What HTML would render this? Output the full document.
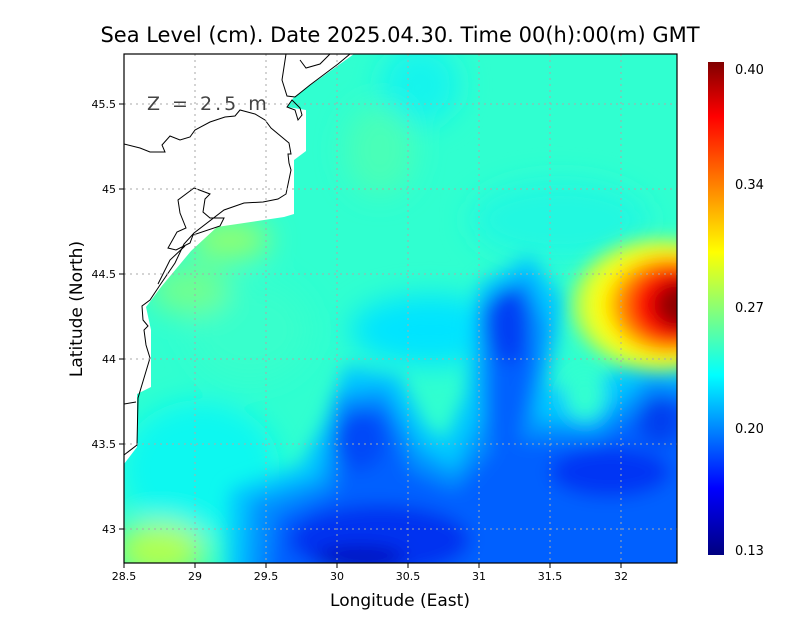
<!DOCTYPE html>
<html><head><meta charset="utf-8"><style>
body{margin:0;background:#fff;width:800px;height:618px;overflow:hidden}
svg text{font-family:"DejaVu Sans","Liberation Sans",sans-serif}
</style></head><body>
<svg width="800" height="618" viewBox="0 0 800 618" xmlns="http://www.w3.org/2000/svg">
<defs>
<clipPath id="pc"><rect x="124" y="54" width="553" height="509"/></clipPath>
<filter id="b1" x="-20%" y="-20%" width="140%" height="140%"><feGaussianBlur stdDeviation="14"/></filter>
<filter id="b3" x="-20%" y="-20%" width="140%" height="140%"><feGaussianBlur stdDeviation="9"/></filter>
<filter id="b2" x="-30%" y="-30%" width="160%" height="160%"><feGaussianBlur stdDeviation="9"/></filter>
<linearGradient id="cb" x1="0" y1="1" x2="0" y2="0">
<stop offset="0" stop-color="#000080"/><stop offset="0.135" stop-color="#0000ff"/>
<stop offset="0.365" stop-color="#00ffff"/><stop offset="0.615" stop-color="#ffff00"/>
<stop offset="0.89" stop-color="#ff0000"/><stop offset="1" stop-color="#800000"/>
</linearGradient>
</defs>
<g clip-path="url(#pc)">
<rect x="100" y="40" width="600" height="540" fill="#30ffd0"/>
<g filter="url(#b1)">
<ellipse cx="420" cy="85" rx="40" ry="40" fill="#18f4ec"/>
<ellipse cx="430" cy="330" rx="80" ry="35" fill="#00e4ff"/>
<ellipse cx="560" cy="220" rx="90" ry="40" fill="#20f8e0"/>
<ellipse cx="200" cy="470" rx="80" ry="70" fill="#10f8f0"/>
<ellipse cx="250" cy="330" rx="60" ry="50" fill="#38ffcc"/>
<ellipse cx="380" cy="150" rx="35" ry="45" fill="#48ffb8"/>
<ellipse cx="160" cy="550" rx="45" ry="28" fill="#b0ff50"/>
<ellipse cx="230" cy="240" rx="40" ry="20" fill="#90ff70"/>
<ellipse cx="190" cy="290" rx="40" ry="25" fill="#70ff90"/>
</g>
<g filter="url(#b3)">
<path d="M225 600 L230 490 L300 465 L325 420 L345 365 L400 375 L425 425 L445 440 L465 395 L478 285 L530 255 L565 300 L548 390 L600 380 L640 355 L700 355 L700 600 Z" fill="#00c8ff"/>
<path d="M245 600 L250 500 L320 478 L338 395 L385 388 L420 450 L455 470 L480 420 L480 305 L528 275 L550 330 L535 420 L595 425 L650 375 L700 385 L700 600 Z" fill="#0090ff"/>
<path d="M265 600 L275 515 L335 490 L348 410 L385 408 L410 470 L455 490 L490 450 L490 320 L522 295 L535 360 L520 440 L600 440 L660 395 L700 400 L700 600 Z" fill="#0060ff"/>
<ellipse cx="508" cy="325" rx="22" ry="38" fill="#0040f4"/>
<ellipse cx="360" cy="440" rx="25" ry="30" fill="#0048f8"/>
<ellipse cx="380" cy="540" rx="90" ry="35" fill="#0030f0"/>
<ellipse cx="610" cy="472" rx="60" ry="25" fill="#0034f4"/>
<ellipse cx="660" cy="420" rx="22" ry="25" fill="#0040f0"/>
<ellipse cx="360" cy="558" rx="45" ry="12" fill="#0010c0"/>
<ellipse cx="585" cy="395" rx="20" ry="25" fill="#30ffd0"/>
</g>
<g filter="url(#b2)">
<ellipse cx="660" cy="305" rx="88" ry="66" fill="#c0ff40"/>
<ellipse cx="665" cy="305" rx="75" ry="58" fill="#ffff00"/>
<ellipse cx="670" cy="305" rx="60" ry="48" fill="#ff9000"/>
<ellipse cx="675" cy="305" rx="47" ry="40" fill="#ff1000"/>
<ellipse cx="682" cy="305" rx="28" ry="25" fill="#900000"/>
</g>
<polygon points="124,54 354,54 294,97 287,107 306,110 306,151 294,160 294,214 284,217 217,227 191,251 161,287 146,307 151,330 151,387 137,394 137,447 124,464" fill="#fff"/>
<g fill="none" stroke="#000" stroke-width="1">
<path d="M124,144 L140,148 L150,152 L165,152 L162,145 L170,136 L180,140 L190,137 L195,130 L210,122 L225,117 L235,116 L240,110 L255,114 L265,120 L271,128 L289,143 L291,154 L288,154 L289,163 L291,170 L286,194 L278,199 L263,202 L244,203 L224,210 L194,233 L184,244 L175,263 L160,285 L150,300 L142,306 L143,320 L148,326 L144,330 L146,345 L150,358 L144,378 L138,398 L137,445 L124,455"/>
<path d="M124,404 L136,402"/>
<path d="M194,188 L178,200 L180,213 L186,228 L177,232 L168,248 L176,250 L190,243 L193,235 L220,226 L224,218 L210,218 L203,212 L205,199 L210,194 Z"/>
<path d="M158,284 L170,260 L185,246"/>
<path d="M286,54 L282,80 L287,96 L295,97 L310,85 L338,64 L350,54"/>
<path d="M300,60 L306,68 L320,64 L330,54"/>
<path d="M287,107 L292,100 L300,108 L302,115 L298,120 L295,110 Z"/>
</g>
<g stroke="#aaa" stroke-width="1" stroke-dasharray="2,4">
<line x1="195" y1="54" x2="195" y2="563"/><line x1="266" y1="54" x2="266" y2="563"/>
<line x1="337" y1="54" x2="337" y2="563"/><line x1="408" y1="54" x2="408" y2="563"/>
<line x1="479" y1="54" x2="479" y2="563"/><line x1="550" y1="54" x2="550" y2="563"/>
<line x1="621" y1="54" x2="621" y2="563"/>
<line x1="124" y1="104" x2="677" y2="104"/><line x1="124" y1="189" x2="677" y2="189"/>
<line x1="124" y1="274" x2="677" y2="274"/><line x1="124" y1="359" x2="677" y2="359"/>
<line x1="124" y1="444" x2="677" y2="444"/><line x1="124" y1="529" x2="677" y2="529"/>
</g>
<text x="147" y="110" font-size="19" fill="#444" letter-spacing="3">Z = 2.5 m</text>
</g>
<rect x="124" y="54" width="553" height="509" fill="none" stroke="#000" stroke-width="1.2"/>
<g stroke="#000"><line x1="124" y1="563" x2="124" y2="568"/><line x1="195" y1="563" x2="195" y2="568"/><line x1="266" y1="563" x2="266" y2="568"/><line x1="337" y1="563" x2="337" y2="568"/><line x1="408" y1="563" x2="408" y2="568"/><line x1="479" y1="563" x2="479" y2="568"/><line x1="550" y1="563" x2="550" y2="568"/><line x1="621" y1="563" x2="621" y2="568"/>
<line x1="119" y1="104" x2="124" y2="104"/><line x1="119" y1="189" x2="124" y2="189"/><line x1="119" y1="274" x2="124" y2="274"/><line x1="119" y1="359" x2="124" y2="359"/><line x1="119" y1="444" x2="124" y2="444"/><line x1="119" y1="529" x2="124" y2="529"/></g>
<g font-size="11" text-anchor="middle" fill="#000">
<text x="124" y="580">28.5</text><text x="195" y="580">29</text><text x="266" y="580">29.5</text><text x="337" y="580">30</text><text x="408" y="580">30.5</text><text x="479" y="580">31</text><text x="550" y="580">31.5</text><text x="621" y="580">32</text>
</g>
<g font-size="11" text-anchor="end" fill="#000">
<text x="116" y="108">45.5</text><text x="116" y="193">45</text><text x="116" y="278">44.5</text><text x="116" y="363">44</text><text x="116" y="448">43.5</text><text x="116" y="533">43</text>
</g>
<text x="400" y="42" font-size="21" text-anchor="middle" fill="#000">Sea Level (cm). Date 2025.04.30. Time 00(h):00(m) GMT</text>
<text x="400" y="606" font-size="17" text-anchor="middle" fill="#000">Longitude (East)</text>
<text transform="translate(82,309) rotate(-90)" font-size="17" text-anchor="middle" fill="#000">Latitude (North)</text>
<rect x="708" y="62" width="16" height="493" fill="url(#cb)"/>
<g font-size="13" fill="#000">
<text x="735" y="74">0.40</text><text x="735" y="189">0.34</text><text x="735" y="312">0.27</text><text x="735" y="433">0.20</text><text x="735" y="555">0.13</text>
</g>
</svg>
</body></html>
